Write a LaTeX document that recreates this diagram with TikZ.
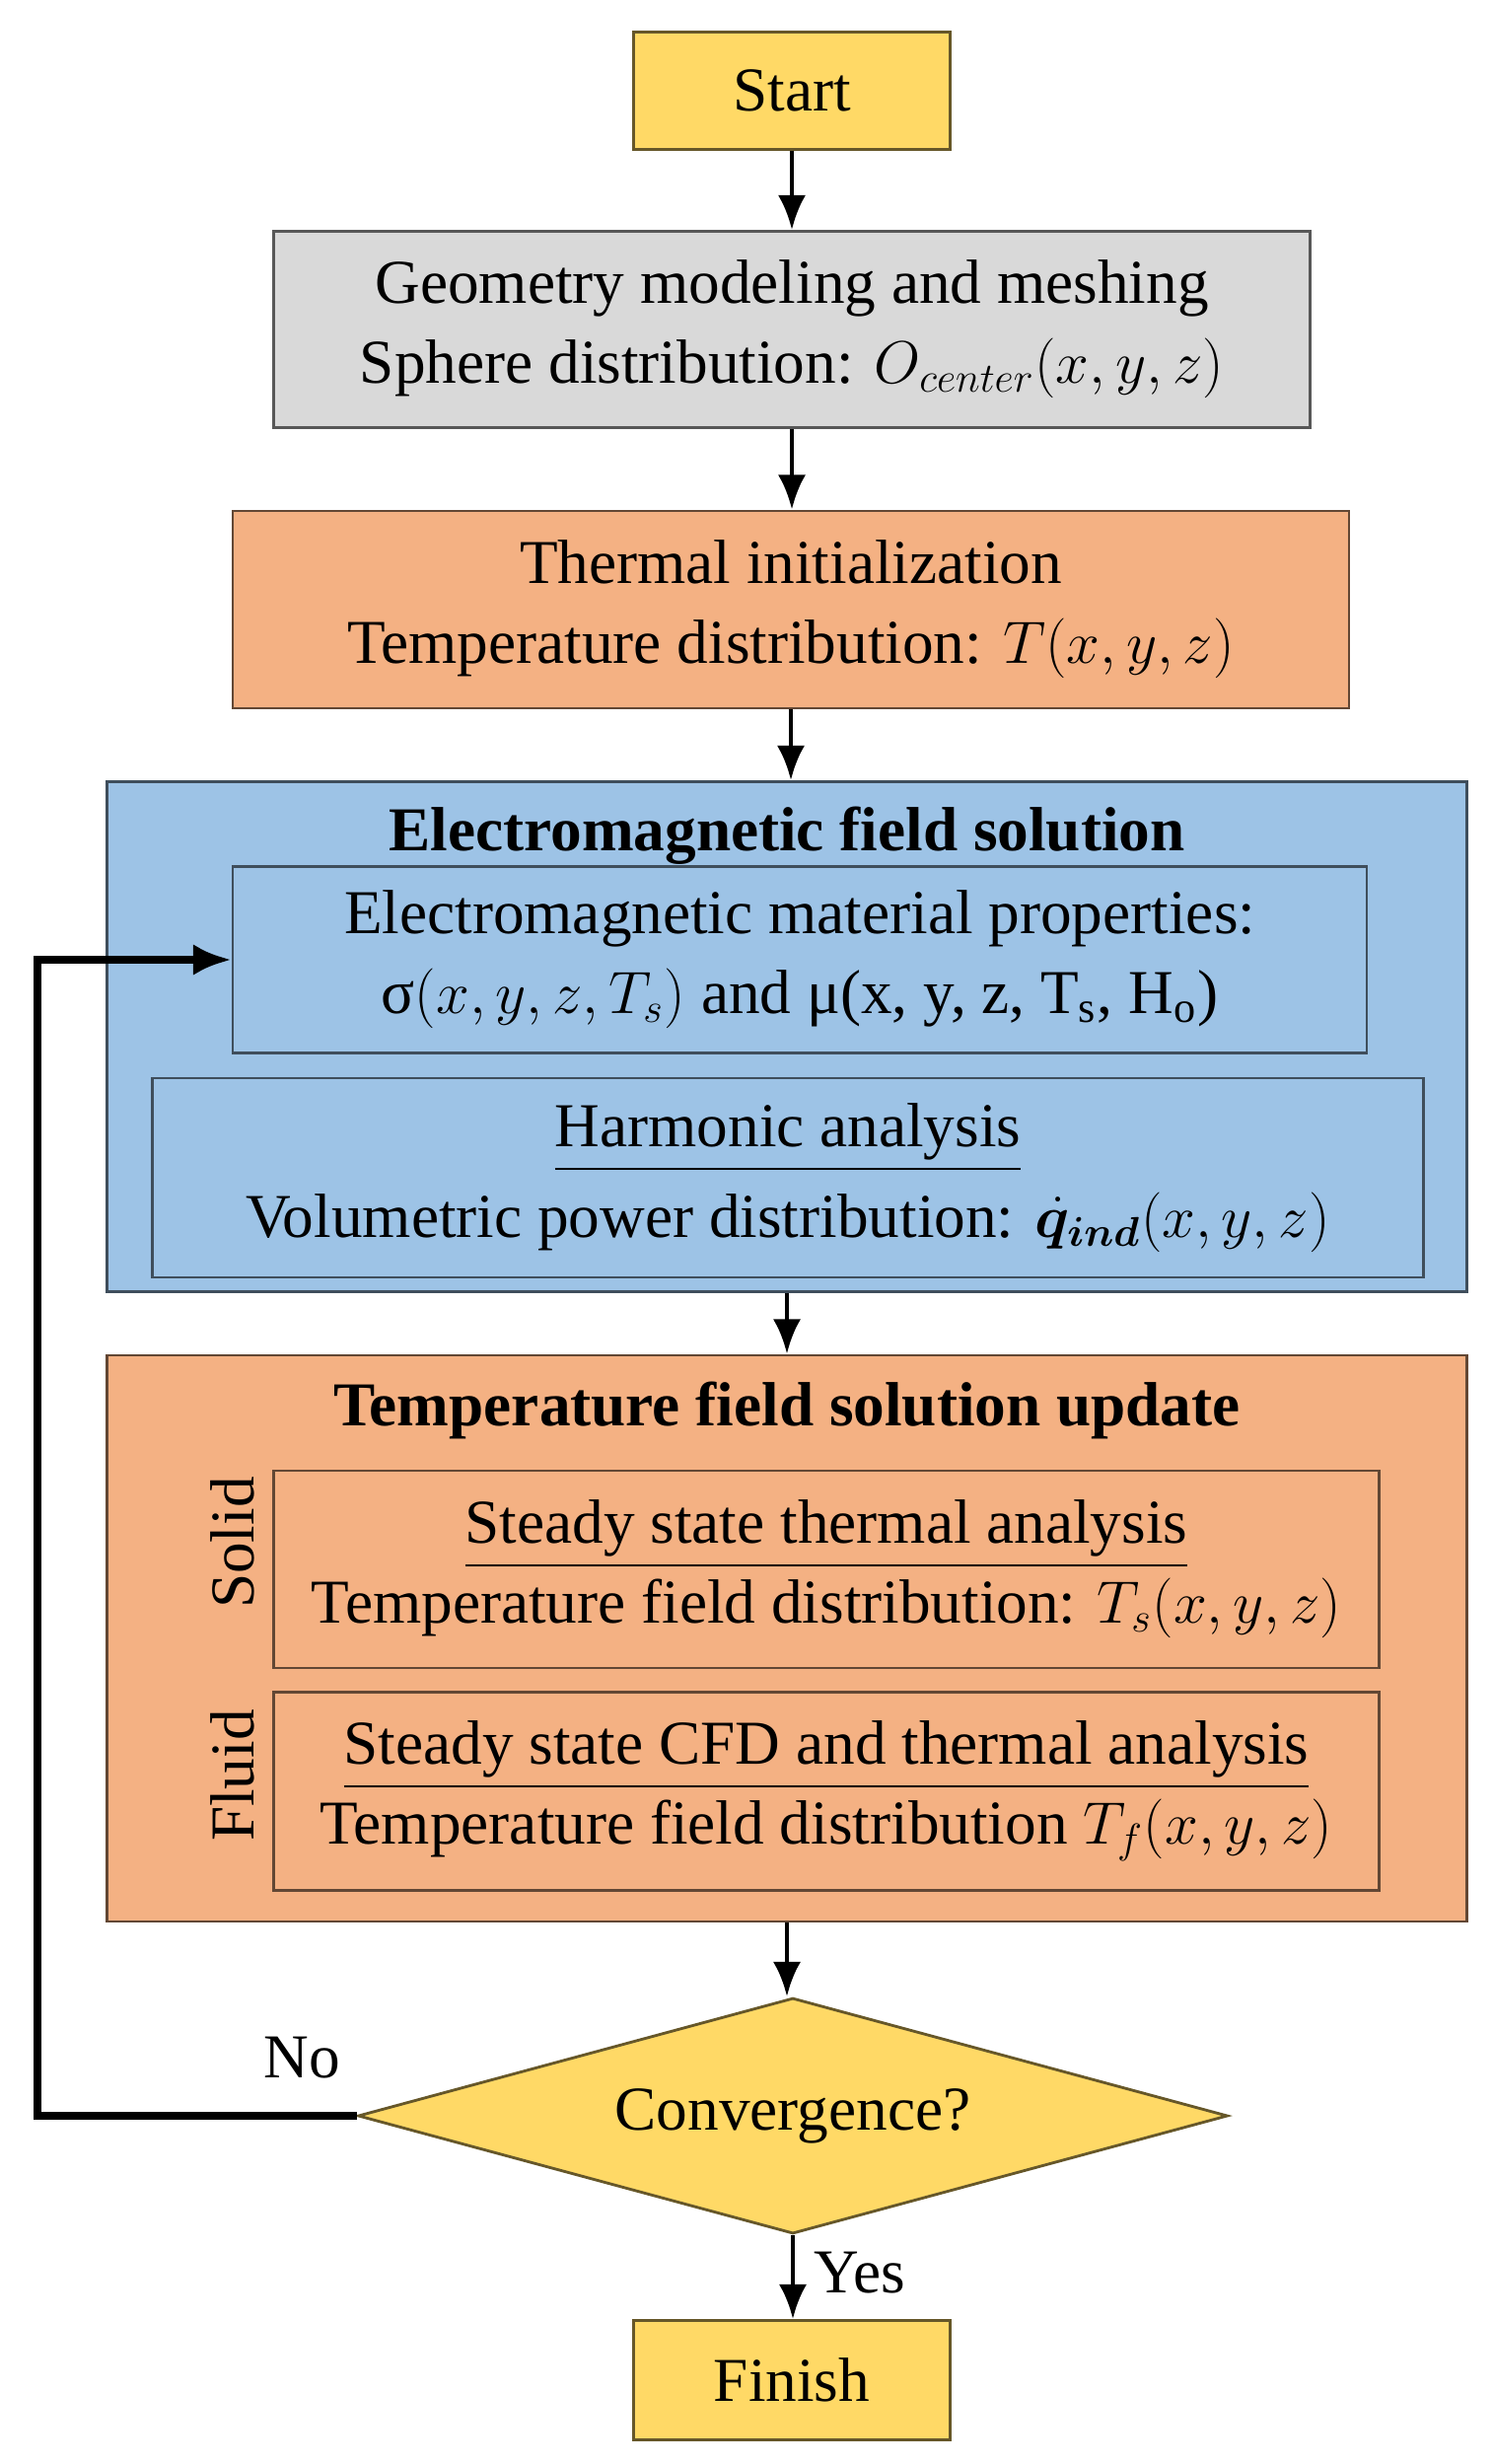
\documentclass[tikz,border=0pt]{standalone}
\usepackage{fontspec}
\setmainfont{Liberation Serif}
\usepackage{amsmath,bm}
\usetikzlibrary{shapes.geometric, arrows.meta, positioning}

\definecolor{termyellow}{HTML}{FFD966}
\definecolor{meshgray}{HTML}{D9D9D9}
\definecolor{heatorange}{HTML}{F4B183}
\definecolor{fieldblue}{HTML}{9DC3E6}

\begin{document}
\begin{tikzpicture}[
	font=\fontsize{18}{23}\selectfont,
	box/.style={draw=#1!40!black, fill=#1, line width=0.8pt, align=center, inner sep=0pt},
	arr/.style={-{Latex[length=10pt,width=8pt]}, line width=1.4pt},
	looparr/.style={-{Latex[length=11pt,width=9pt]}, line width=2.4pt},
]
	\useasboundingbox (0,0) rectangle (15.13,-24.98);

	% start and preprocessing
	\node[box=termyellow, minimum width=3.21cm, minimum height=1.19cm] (start) at (8.03,-0.92) {Start};
	\node[box=meshgray, minimum width=10.51cm, minimum height=1.99cm] (geom) at (8.03,-3.34)
		{Geometry modeling and meshing\\Sphere distribution: $O_{center}(x,y,z)$};
	\node[box=heatorange, minimum width=11.32cm, minimum height=2.0cm] (init) at (8.02,-6.18)
		{Thermal initialization\\Temperature distribution: $T(x,y,z)$};

	% electromagnetic block
	\node[box=fieldblue, minimum width=13.79cm, minimum height=5.17cm] (em) at (7.98,-10.51) {};
	\node (emhead) at (7.98,-8.47) {\textbf{Electromagnetic field solution}};
	\node[box=fieldblue, minimum width=11.5cm, minimum height=1.89cm] (emprop) at (8.11,-9.73)
		{Electromagnetic material properties:\\σ$(x,y,z,T_s)$ and μ(x, y, z, T\textsubscript{s}, H\textsubscript{o})};
	\node[box=fieldblue, minimum width=12.89cm, minimum height=2.02cm] (harm) at (7.99,-11.94)
		{\underline{Harmonic analysis}\\[3pt]Volumetric power distribution: $\dot{\bm{q}}_{\bm{ind}}(x,y,z)$};

	% thermal block
	\node[box=heatorange, minimum width=13.79cm, minimum height=5.74cm] (temp) at (7.98,-16.61) {};
	\node (temphead) at (7.98,-14.30) {\textbf{Temperature field solution update}};
	\node[box=heatorange, minimum width=11.21cm, minimum height=2.0cm] (solid) at (8.38,-15.91)
		{\underline{Steady state thermal analysis}\\Temperature field distribution: $T_s(x,y,z)$};
	\node[box=heatorange, minimum width=11.21cm, minimum height=2.01cm] (fluid) at (8.38,-18.16)
		{\underline{Steady state CFD and thermal analysis}\\Temperature field distribution $T_f(x,y,z)$};
	\node[rotate=90] (solidlab) at (2.36,-15.64) {Solid};
	\node[rotate=90] (fluidlab) at (2.36,-18.00) {Fluid};

	% decision and end
	\node[box=termyellow, shape=diamond, aspect=3.69, minimum width=8.82cm, minimum height=2.39cm] (conv) at (8.04,-21.45) {Convergence?};
	\node[box=termyellow, minimum width=3.21cm, minimum height=1.21cm] (finish) at (8.03,-24.13) {Finish};

	% main arrows
	\foreach \a/\b in {start/geom, geom/init, init/em, em/temp, temp/conv, conv/finish} {
		\draw[arr] (\a.south) -- (\a.south |- \b.north);
	}
	\node (yes) at (8.72,-23.04) {Yes};

	% iteration loop
	\coordinate (back) at (0.38,-21.45);
	\draw[looparr] (conv.west) -- (back) |- (emprop.west);
	\node (no) at (3.06,-20.86) {No};
\end{tikzpicture}
\end{document}
